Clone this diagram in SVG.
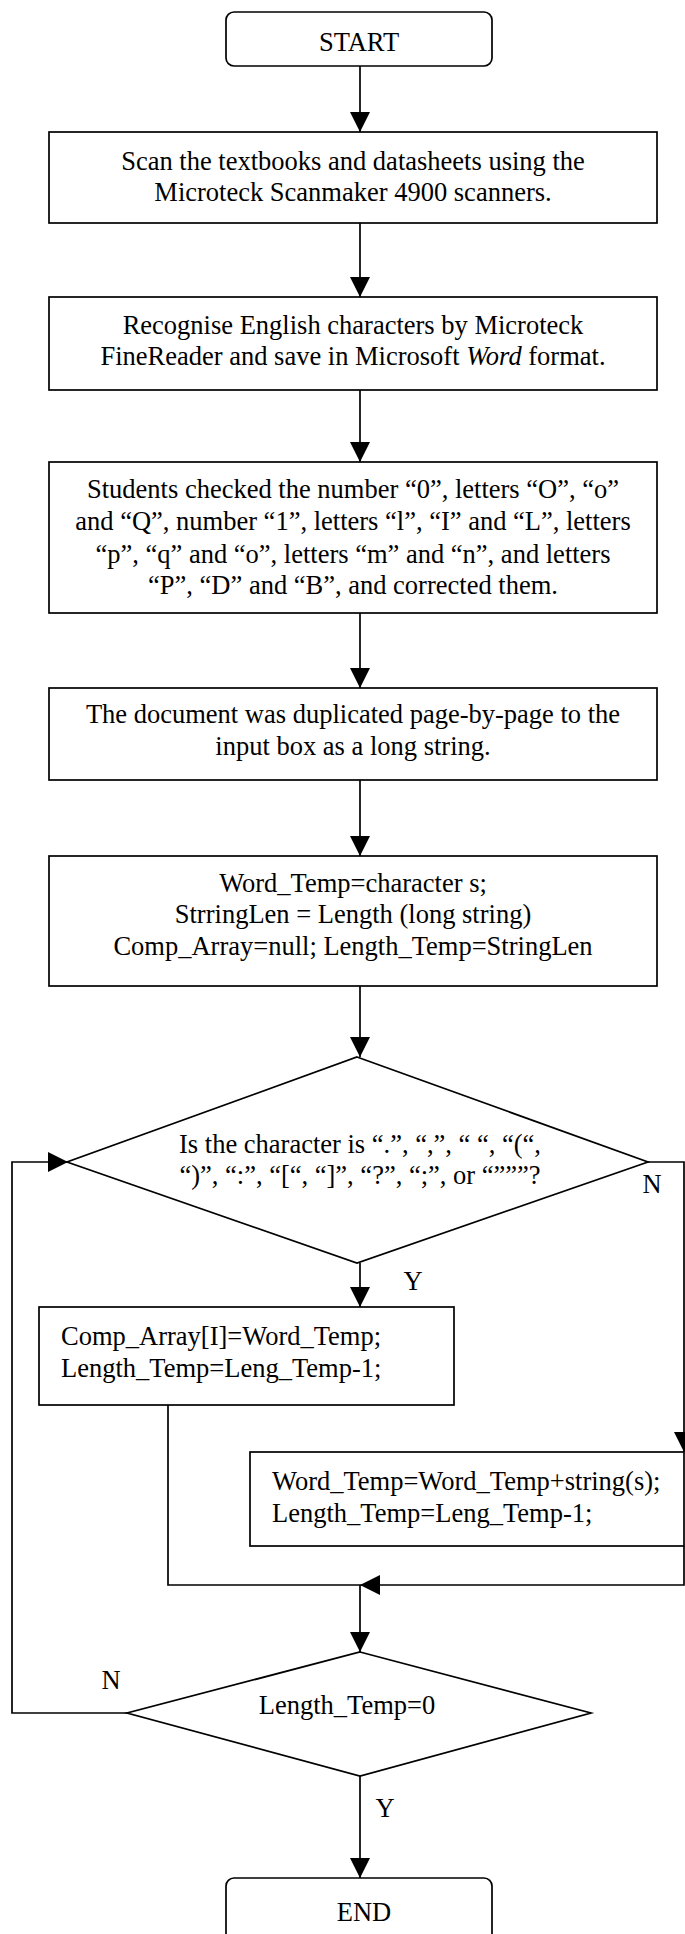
<svg xmlns="http://www.w3.org/2000/svg" width="685" height="1934" viewBox="0 0 685 1934">
  <style>
    .box { fill: #ffffff; stroke: #000000; stroke-width: 1.7; }
    .edge { fill: none; stroke: #000000; stroke-width: 1.7; }
    text { font-family: "Liberation Serif", "Times New Roman", serif; font-size: 26.5px; fill: #000000; }
    .c { text-anchor: middle; }
  </style>
  <defs>
    <marker id="arrow" markerUnits="userSpaceOnUse" markerWidth="20" markerHeight="20" refX="20" refY="10" orient="auto">
      <path d="M0,0 L20,10 L0,20 Z" fill="#000000"/>
    </marker>
  </defs>
  <rect width="685" height="1934" fill="#ffffff"/>

  <g id="connectors">
    <line class="edge" x1="360" y1="66" x2="360" y2="132" marker-end="url(#arrow)"/>
    <line class="edge" x1="360" y1="223" x2="360" y2="297" marker-end="url(#arrow)"/>
    <line class="edge" x1="360" y1="390" x2="360" y2="462" marker-end="url(#arrow)"/>
    <line class="edge" x1="360" y1="613" x2="360" y2="688" marker-end="url(#arrow)"/>
    <line class="edge" x1="360" y1="780" x2="360" y2="856" marker-end="url(#arrow)"/>
    <line class="edge" x1="360" y1="986" x2="360" y2="1057" marker-end="url(#arrow)"/>
    <line class="edge" x1="360" y1="1263" x2="360" y2="1307" marker-end="url(#arrow)"/>
    <polyline class="edge" points="648,1162 684,1162 684,1452" marker-end="url(#arrow)"/>
    <polyline class="edge" points="168,1405 168,1585 360,1585"/>
    <polyline class="edge" points="684,1546 684,1585 360,1585" marker-end="url(#arrow)"/>
    <line class="edge" x1="360" y1="1585" x2="360" y2="1652" marker-end="url(#arrow)"/>
    <polyline class="edge" points="127,1713 12,1713 12,1162 68,1162" marker-end="url(#arrow)"/>
    <line class="edge" x1="360" y1="1776" x2="360" y2="1878" marker-end="url(#arrow)"/>
    <text class="c" x="652" y="1193">N</text>
    <text class="c" x="413" y="1290">Y</text>
    <text class="c" x="111" y="1689">N</text>
    <text class="c" x="385" y="1817">Y</text>
  </g>

  <g id="start">
    <rect class="box" x="226" y="12" width="266" height="54" rx="8"/>
    <text class="c" x="359" y="51">START</text>
  </g>

  <g id="scan">
    <rect class="box" x="49" y="132" width="608" height="91"/>
    <text class="c" x="353" y="170">Scan the textbooks and datasheets using the</text>
    <text class="c" x="353" y="201">Microteck Scanmaker 4900 scanners.</text>
  </g>

  <g id="recognise">
    <rect class="box" x="49" y="297" width="608" height="93"/>
    <text class="c" x="353" y="334">Recognise English characters by Microteck</text>
    <text class="c" x="353" y="365">FineReader and save in Microsoft <tspan font-style="italic">Word</tspan> format.</text>
  </g>

  <g id="check">
    <rect class="box" x="49" y="462" width="608" height="151"/>
    <text class="c" x="353" y="498">Students checked the number “0”, letters “O”, “o”</text>
    <text class="c" x="353" y="530">and “Q”, number “1”, letters “l”, “I” and “L”, letters</text>
    <text class="c" x="353" y="563">“p”, “q” and “o”, letters “m” and “n”, and letters</text>
    <text class="c" x="353" y="594">“P”, “D” and “B”, and corrected them.</text>
  </g>

  <g id="duplicate">
    <rect class="box" x="49" y="688" width="608" height="92"/>
    <text class="c" x="353" y="723">The document was duplicated page-by-page to the</text>
    <text class="c" x="353" y="755">input box as a long string.</text>
  </g>

  <g id="init">
    <rect class="box" x="49" y="856" width="608" height="130"/>
    <text class="c" x="353" y="892">Word_Temp=character s;</text>
    <text class="c" x="353" y="923">StrringLen = Length (long string)</text>
    <text class="c" x="353" y="955">Comp_Array=null; Length_Temp=StringLen</text>
  </g>

  <g id="is-separator">
    <polygon class="box" points="357,1057 648,1162 357,1263 67,1162"/>
    <text class="c" x="360" y="1153">Is the character is “.”, “,”, “ “, “(“,</text>
    <text class="c" x="360" y="1184">“)”, “:”, “[“, “]”, “?”, “;”, or “”””?</text>
  </g>

  <g id="store-word">
    <rect class="box" x="39" y="1307" width="415" height="98"/>
    <text x="61" y="1345">Comp_Array[I]=Word_Temp;</text>
    <text x="61" y="1377">Length_Temp=Leng_Temp-1;</text>
  </g>

  <g id="append-char">
    <rect class="box" x="250" y="1452" width="434" height="94"/>
    <text x="272" y="1490">Word_Temp=Word_Temp+string(s);</text>
    <text x="272" y="1522">Length_Temp=Leng_Temp-1;</text>
  </g>

  <g id="is-done">
    <polygon class="box" points="360,1652 591,1713 360,1776 127,1713"/>
    <text class="c" x="347" y="1714">Length_Temp=0</text>
  </g>

  <g id="end">
    <rect class="box" x="226" y="1878" width="266" height="70" rx="8"/>
    <text class="c" x="364" y="1921">END</text>
  </g>
</svg>
